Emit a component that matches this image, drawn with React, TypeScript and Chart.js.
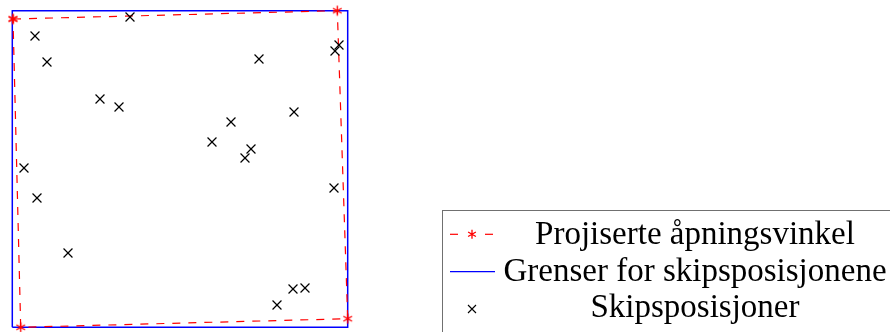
import React, { useEffect, useRef } from "react";
import { Chart, registerables } from "chart.js";

Chart.register(...registerables);

// Boundary of the ship positions (closed rectangle)
const boundaryX = [0, 335.4, 335.4, 0, 0];
const boundaryY = [0, 0, 316.6, 316.6, 0];

// Projected opening angle (closed quadrilateral)
const apertureX = [0.7, 325.0, 335.4, 8.4, 0.7];
const apertureY = [308.3, 316.6, 8.6, 0.0, 308.3];

// Ship positions
const shipX = [
  117.7, 22.7, 34.7, 87.7, 106.7, 246.7, 326.7, 322.7, 281.7, 218.7,
  199.7, 238.7, 232.7, 321.7, 11.7, 24.7, 55.7, 280.7, 292.7, 264.7,
];
const shipY = [
  310.3, 291.3, 265.3, 228.3, 220.3, 268.3, 282.3, 276.3, 215.3, 205.3,
  185.3, 178.3, 169.3, 139.3, 159.3, 129.3, 74.3, 38.3, 39.3, 22.3,
];

const legendLabels = [
  "Projiserte åpningsvinkel",
  "Grenser for skipsposisjonene",
  "Skipsposisjoner",
];

const toPoints = (xs: number[], ys: number[]) =>
  xs.map((x, i) => ({ x, y: ys[i] }));

function makeAsterisk(color: string, r: number, lw: number): HTMLCanvasElement {
  const size = Math.ceil(2 * r + 2 * lw);
  const c = document.createElement("canvas");
  c.width = size;
  c.height = size;
  const ctx = c.getContext("2d")!;
  ctx.strokeStyle = color;
  ctx.lineWidth = lw;
  const cx = size / 2;
  ctx.beginPath();
  for (let k = 0; k < 3; k++) {
    const a = Math.PI / 2 + (k * Math.PI) / 3;
    const dx = r * Math.cos(a);
    const dy = r * Math.sin(a);
    ctx.moveTo(cx + dx, cx + dy);
    ctx.lineTo(cx - dx, cx - dy);
  }
  ctx.stroke();
  return c;
}

function asteriskPath(cx: number, cy: number, r: number) {
  let d = "";
  for (let k = 0; k < 3; k++) {
    const a = Math.PI / 2 + (k * Math.PI) / 3;
    const dx = r * Math.cos(a);
    const dy = r * Math.sin(a);
    d += `M${cx + dx} ${cy + dy}L${cx - dx} ${cy - dy}`;
  }
  return d;
}

export default function App() {
  const canvasRef = useRef<HTMLCanvasElement | null>(null);

  useEffect(() => {
    if (!canvasRef.current) return;
    const star = makeAsterisk("#ff0000", 5, 1.4);
    const chart = new Chart(canvasRef.current, {
      type: "scatter",
      data: {
        datasets: [
          {
            label: legendLabels[2],
            data: toPoints(shipX, shipY),
            pointStyle: "crossRot",
            pointRadius: 6.3,
            borderColor: "#000000",
            borderWidth: 1.2,
            backgroundColor: "#000000",
            showLine: false,
            clip: false,
          },
          {
            label: legendLabels[0],
            data: toPoints(apertureX, apertureY),
            showLine: true,
            borderColor: "#ff0000",
            borderWidth: 1.2,
            borderDash: [8, 8],
            pointStyle: star,
            pointRadius: 5,
            tension: 0,
            fill: false,
            clip: false,
          },
          {
            label: legendLabels[1],
            data: toPoints(boundaryX, boundaryY),
            showLine: true,
            borderColor: "#0000ff",
            borderWidth: 1.5,
            pointRadius: 0,
            tension: 0,
            fill: false,
            clip: false,
          },
        ],
      },
      options: {
        animation: false,
        responsive: false,
        devicePixelRatio: 1,
        layout: {
          autoPadding: false,
          padding: { left: 2, right: 532, top: 2, bottom: 2 },
        },
        scales: {
          x: { type: "linear", min: -10.3, max: 345.7, display: false },
          y: { type: "linear", min: -2.7, max: 325.3, display: false },
        },
        plugins: {
          legend: { display: false },
          tooltip: { enabled: false },
        },
      },
    });
    return () => chart.destroy();
  }, []);

  const rowTops = [214.8, 251.5, 288.2];

  return (
    <div
      style={{
        position: "absolute",
        left: 0,
        top: 0,
        width: 890,
        height: 332,
        overflow: "hidden",
        background: "#ffffff",
      }}
    >
      <canvas
        ref={canvasRef}
        width={890}
        height={332}
        style={{ position: "absolute", left: 0, top: 0, width: 890, height: 332 }}
      />
      <div
        style={{
          position: "absolute",
          left: 442,
          top: 209.5,
          width: 470,
          height: 150,
          borderLeft: "1.5px solid #707070",
          borderTop: "1.5px solid #707070",
          boxSizing: "border-box",
        }}
      />
      <svg
        width={890}
        height={332}
        style={{ position: "absolute", left: 0, top: 0, pointerEvents: "none" }}
      >
        <line x1={450} y1={234.3} x2={458} y2={234.3} stroke="#ff0000" strokeWidth={1.2} />
        <line x1={485} y1={234.3} x2={493} y2={234.3} stroke="#ff0000" strokeWidth={1.2} />
        <path d={asteriskPath(472, 234.3, 4.5)} stroke="#ff0000" strokeWidth={1.3} fill="none" />
        <line x1={450} y1={271.7} x2={495} y2={271.7} stroke="#0000ff" strokeWidth={1.3} />
        <path d="M468 305L476 313M468 313L476 305" stroke="#000000" strokeWidth={1.1} fill="none" />
      </svg>
      {legendLabels.map((label, i) => (
        <div
          key={label}
          style={{
            position: "absolute",
            left: 500,
            top: rowTops[i],
            width: 390,
            textAlign: "center",
            fontFamily: '"Liberation Serif", serif',
            fontSize: 33,
            lineHeight: "36.7px",
            whiteSpace: "nowrap",
            color: "#000000",
          }}
        >
          {label}
        </div>
      ))}
    </div>
  );
}
